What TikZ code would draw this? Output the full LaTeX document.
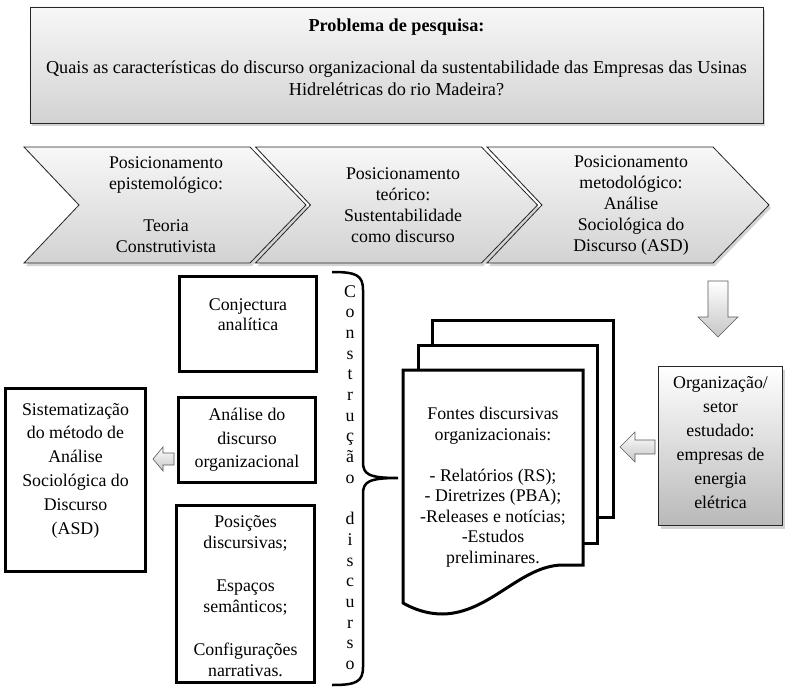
\documentclass[tikz,border=0pt]{standalone}
\usepackage{fontspec}
\setmainfont{Liberation Serif}
\usetikzlibrary{shadows}

\tikzset{
  txt/.style={align=center, inner sep=0pt, font=\fontsize{17.9}{#1}\selectfont},
  txt/.default=21bp,
  caixa/.style={draw, line width=3bp, fill=white},
  cinza/.style={draw=black!85, line width=0.8bp, top color=gray!6, bottom color=gray!35,
    drop shadow={opacity=0.35, shadow xshift=2bp, shadow yshift=-3bp}},
  seta/.style={draw=black!65, line width=0.6bp, top color=white, bottom color=gray!45},
}

\begin{document}
\begin{tikzpicture}[x=1bp, y=-1bp]
	\useasboundingbox (0,0) rectangle (792,691);

	% problema de pesquisa
	\node[cinza, minimum width=733bp, minimum height=116bp] (problema) at (396.5,65) {};
	\node[txt=22bp, font=\fontsize{18.3}{22bp}\selectfont] (problematxt) at (396.5,57) {\textbf{Problema de pesquisa:}\\[20bp]Quais as características do discurso organizacional da sustentabilidade das Empresas das Usinas\\Hidrelétricas do rio Madeira?};

	% posicionamentos
	\foreach \x in {24,255.5,487} {
		\path[cinza] (\x,147) -- (\x+226,147) -- (\x+282,205) -- (\x+226,263) -- (\x,263) -- (\x+55,205) -- cycle;
	}
	\node[txt] (pos1) at (166,205) {Posicionamento\\epistemológico:\\[21bp]Teoria\\Construtivista};
	\node[txt] (pos2) at (403,205) {Posicionamento\\teórico:\\Sustentabilidade\\como discurso};
	\node[txt] (pos3) at (631,205) {Posicionamento\\metodológico:\\Análise\\Sociológica do\\Discurso (ASD)};

	% organizacao estudada
	\path[seta] (708,281) -- (728,281) -- (728,317) -- (738,317) -- (718,337) -- (698,317) -- (708,317) -- cycle;
	\node[cinza, top color=white, bottom color=gray!55, minimum width=124bp, minimum height=159bp] (org) at (720.5,446) {};
	\node[txt=24bp] (orgtxt) at (720.5,443) {Organização/\\setor\\estudado:\\empresas de\\energia\\elétrica};
	\path[seta] (655,440) -- (635,440) -- (635,432) -- (620,447) -- (635,462) -- (635,454) -- (655,454) -- cycle;

	% fontes discursivas
	\draw[caixa] (432,320) rectangle (613,517);
	\draw[caixa] (418,345) rectangle (597,543);
	\draw[caixa] (403,370) -- (583,370) -- (583,565) -- (562,565) .. controls (520,566) and (490,613) .. (443,614) .. controls (425,614) and (412,608) .. (403,603) -- cycle;
	\node[txt=20.5bp] (fontes) at (493,487) {Fontes discursivas\\organizacionais:\\[20.5bp]- Relatórios (RS);\\- Diretrizes (PBA);\\-Releases e notícias;\\-Estudos\\preliminares.};

	% construcao do discurso
	\draw[line width=2.5bp] (332,272) .. controls (356,272) and (363,275) .. (363,290) -- (363,462) .. controls (363,474) and (368,478) .. (398,478)
		.. controls (368,478) and (363,482) .. (363,494) -- (363,667) .. controls (363,682) and (356,685) .. (332,685);
	\foreach \l [count=\i] in {C,o,n,s,t,r,u,ç,ã,o,{},d,i,s,c,u,r,s,o} {
		\node[txt, anchor=base] (letra\i) at (350,{297+20.7*(\i-1)}) {\l};
	}

	\node[caixa, minimum width=137bp, minimum height=95bp] (conj) at (248,324) {};
	\node[txt=20bp] (conjtxt) at (248,315) {Conjectura\\analítica};
	\node[caixa, minimum width=137bp, minimum height=85bp] (analise) at (247,440) {};
	\node[txt=23.5bp] (analisetxt) at (247,440) {Análise do\\discurso\\organizacional};
	\node[caixa, minimum width=138bp, minimum height=177bp] (posicoes) at (245.5,594) {};
	\node[txt] (posicoestxt) at (245.5,596.5) {Posições\\discursivas;\\[22bp]Espaços\\semânticos;\\[22bp]Configurações\\narrativas.};

	% sistematizacao
	\path[seta] (174,453) -- (163,453) -- (163,447) -- (153,459) -- (163,471) -- (163,465) -- (174,465) -- cycle;
	\node[caixa, minimum width=140bp, minimum height=183bp] (sist) at (75.5,480) {};
	\node[txt=23.8bp] (sisttxt) at (75.5,470.5) {Sistematização\\do método de\\Análise\\Sociológica do\\Discurso\\(ASD)};
\end{tikzpicture}
\end{document}
